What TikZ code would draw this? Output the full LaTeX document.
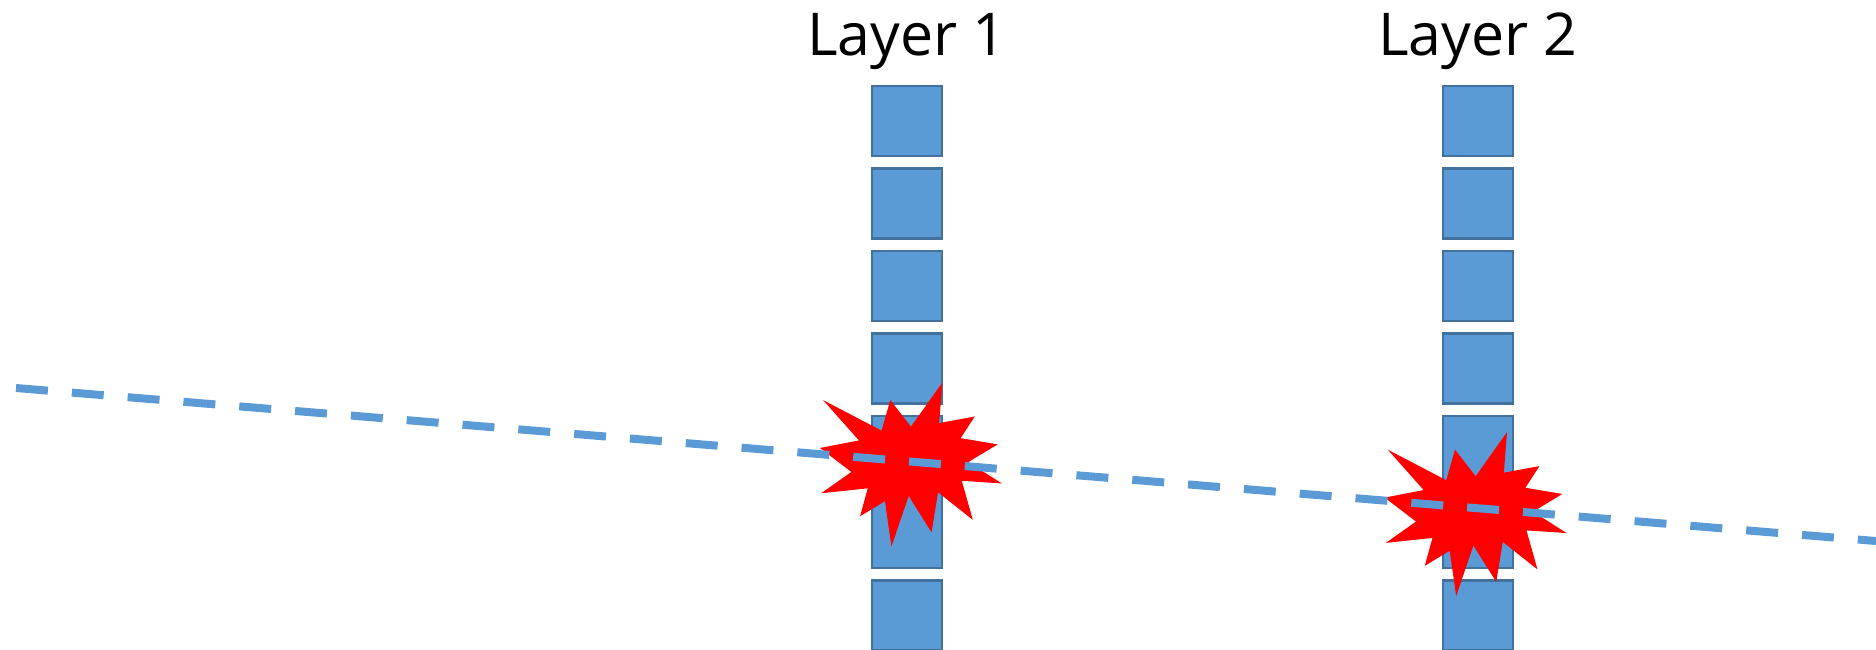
\documentclass[tikz,border=0pt]{standalone}
\usepackage{fontspec}
\setmainfont{Open Sans}
\usetikzlibrary{positioning}
\definecolor{cellblue}{HTML}{5B9BD5}
\definecolor{celledge}{HTML}{41719C}
\tikzstyle{cell}=[draw=celledge,fill=cellblue,line width=1.25pt,minimum size=35pt,inner sep=0pt]
\tikzstyle{tallcell}=[cell,minimum height=76pt]
\tikzstyle{layer}=[font=\fontsize{29.5}{36}\selectfont,inner sep=0pt]
\tikzstyle{ray}=[draw=cellblue,line width=4pt,dash pattern=on 16pt off 12pt]
\tikzstyle{burst}=[fill=red]
\newcommand{\burstat}[2]{%
  \begin{scope}[shift={(#1,#2)}, x=0.421pt, y=-0.379pt]
    \fill[burst] (108,58) -- (145.22,0) -- (141.55,53.25) -- (183.80,44.57)
      -- (167.02,73.15) -- (210.97,81.37) -- (176.07,104.75) -- (216,132.90)
      -- (168.37,129.42) -- (181.45,180.95) -- (140.20,144.57) -- (132.47,197.37)
      -- (105.32,149.35) -- (84.85,216) -- (77.15,156.27) -- (47.62,176.17)
      -- (56.67,139.37) -- (1.35,145.87) -- (37.22,117.75) -- (0,86.15)
      -- (46.27,76.17) -- (3.70,22.95) -- (73.12,63.20) -- (83.52,22.95) -- cycle;
  \end{scope}}

\begin{document}
\begin{tikzpicture}[x=0.5pt, y=-0.5pt]
    \useasboundingbox (0,0) rectangle (1876,649);
    % First we draw the two columns of cells
    \foreach \col/\cx/\n in {a/907/1, b/1478/2} {
        \node[cell] (\col0) at (\cx,121) {};
        \foreach \row [count=\prev from 0] in {1,2,3}
            \node[cell, below=5pt of \col\prev] (\col\row) {};
        \node[tallcell, below=5pt of \col3] (\col4) {};
        \node[cell, below=5pt of \col4] (\col6) {};
        \node[layer, above=14.5pt of \col0, anchor=base] (lab\col) {Layer \n};
    }
    % Bursts where the ray hits
    \foreach \bx/\by in {820/382.7, 1384.7/432.3}
        \burstat{\bx}{\by}
    % The ray on top
    \coordinate (rayin) at (16,388);
    \coordinate (rayout) at (1876,541);
    \path[ray] (rayin) -- (rayout);
\end{tikzpicture}
\end{document}
